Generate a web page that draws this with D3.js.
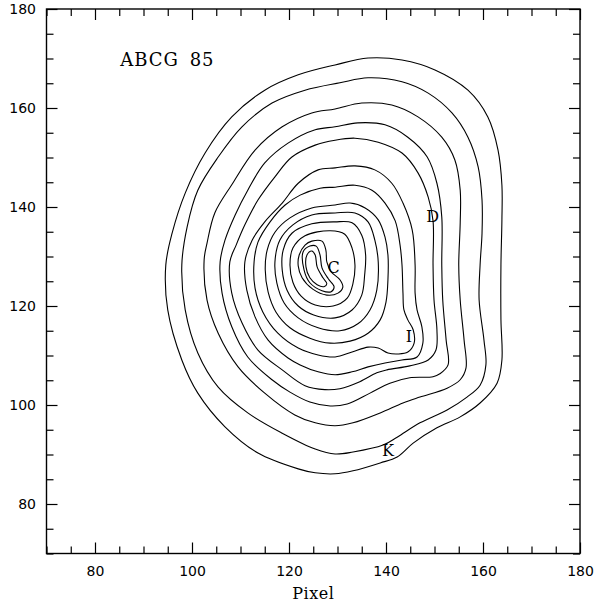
<!DOCTYPE html>
<html>
<head>
<meta charset="utf-8">
<script src="https://cdn.jsdelivr.net/npm/d3@7"></script>
<style>
  html, body { margin: 0; padding: 0; background: #fff; }
  svg { display: block; }
  .tick text { font-family: "DejaVu Sans", sans-serif; font-size: 14px; fill: #000; }
  .lbl { font-family: "DejaVu Serif", serif; fill: #000; }
</style>
</head>
<body>
<svg id="chart"></svg>
<script>
// isophote contours, outer (1) to inner (14), in pixel units of the image
const contour1 = [[129.5,168.7],[136.3,170.1],[143.3,169.7],[150.1,167.7],[156.9,163.6],[161.0,158.2],[163.1,151.5],[163.9,144.4],[163.9,137.4],[163.7,128.3],[163.7,117.2],[163.9,109.1],[162.9,104.4],[159.4,100.4],[155.3,97.6],[150.5,95.4],[145.6,92.3],[142.3,89.5],[138.8,88.3],[133.2,86.7],[129.5,86.1],[125.4,86.3],[121.9,87.1],[113.6,90.3],[106.8,95.6],[101.2,102.4],[97.9,109.1],[95.0,119.2],[94.6,128.3],[95.9,134.7],[98.6,142.8],[102.7,150.9],[108.2,158.2],[115.0,163.6],[121.9,166.7]];
const contour2 = [[130.5,165.1],[136.3,166.1],[143.3,165.3],[148.7,163.0],[153.6,159.0],[156.9,154.1],[159.0,148.1],[159.8,141.4],[159.8,134.7],[159.4,128.3],[159.2,121.2],[160.2,113.1],[160.6,108.1],[159.4,104.0],[156.7,101.6],[152.6,99.0],[147.0,96.4],[142.3,93.5],[139.4,91.9],[133.2,90.5],[129.5,90.1],[125.4,91.1],[118.6,94.3],[111.5,98.4],[105.4,103.6],[101.2,110.5],[98.6,119.2],[97.9,128.3],[99.0,136.0],[101.2,143.4],[105.4,150.1],[110.3,156.2],[116.5,161.0],[123.3,163.6]];
const contour3 = [[129.5,159.8],[135.0,161.0],[141.2,160.6],[146.6,158.2],[151.5,154.1],[154.2,149.5],[155.3,143.4],[155.3,136.8],[155.0,128.3],[155.3,121.2],[156.1,113.1],[156.5,107.5],[155.3,105.1],[152.6,103.4],[147.0,101.6],[143.5,100.4],[138.8,98.4],[133.2,96.4],[129.5,95.8],[125.4,96.4],[121.2,98.0],[115.0,102.4],[109.5,107.7],[105.4,114.5],[103.1,121.2],[102.5,129.3],[103.1,132.7],[104.7,138.8],[108.2,144.5],[113.0,151.5],[118.6,156.2],[124.7,159.0]];
const contour4 = [[129.5,156.2],[134.2,157.0],[139.8,156.6],[144.5,154.1],[148.5,150.1],[150.5,144.8],[151.5,138.0],[151.5,128.3],[151.7,121.2],[152.4,113.1],[152.8,108.1],[151.1,106.3],[149.7,105.7],[144.9,105.5],[140.8,104.4],[136.7,102.4],[132.0,100.2],[128.5,99.8],[124.3,100.6],[120.2,102.6],[116.5,105.1],[111.5,109.7],[108.2,115.8],[106.2,122.6],[105.8,128.9],[106.8,133.3],[108.9,138.4],[111.5,143.4],[115.0,148.9],[119.8,152.9],[125.4,155.6]];
const contour5 = [[129.5,153.5],[133.6,153.9],[138.4,153.1],[143.3,150.9],[146.6,146.9],[148.7,142.0],[149.7,137.2],[149.7,128.3],[149.9,121.2],[150.5,115.2],[150.3,111.1],[148.7,109.1],[144.9,107.9],[140.2,107.1],[138.1,106.5],[134.6,104.7],[130.5,103.3],[127.4,103.1],[123.3,103.9],[118.6,107.1],[113.6,111.1],[110.3,116.6],[108.2,122.6],[107.8,128.9],[109.1,132.3],[110.9,136.4],[113.6,141.4],[117.1,146.1],[120.6,150.1],[125.4,152.5]];
const contour6 = [[129.5,147.9],[133.6,148.3],[137.7,147.5],[141.2,144.8],[143.5,140.8],[145.4,135.4],[146.0,128.3],[146.0,122.6],[146.4,119.2],[147.4,115.8],[147.6,112.5],[146.4,109.7],[143.3,109.1],[139.8,108.5],[136.3,107.7],[133.0,106.7],[129.5,106.1],[126.0,106.7],[122.3,108.1],[119.8,109.5],[115.7,113.1],[113.0,117.8],[111.3,123.2],[110.9,128.9],[112.4,133.3],[115.0,137.0],[118.6,140.8],[121.9,144.8],[126.0,147.5]];
const contour7 = [[129.5,144.0],[133.6,144.4],[137.1,143.4],[139.8,140.8],[141.9,137.2],[142.9,132.3],[143.3,128.3],[143.5,122.6],[143.7,119.2],[144.5,117.2],[145.6,115.2],[145.8,112.5],[144.5,110.7],[142.5,110.3],[140.4,110.5],[138.4,111.5],[136.3,111.7],[133.0,110.7],[129.5,109.7],[126.0,110.1],[121.9,111.5],[117.7,114.5],[114.6,118.8],[113.0,123.6],[112.8,128.9],[113.6,132.9],[116.1,137.0],[119.2,140.4],[122.3,142.4],[126.4,143.8]];
const contour8 = [[129.5,140.4],[132.6,140.8],[135.7,139.8],[138.4,137.4],[139.8,133.9],[140.4,130.3],[140.4,125.3],[140.0,120.8],[138.8,117.2],[136.3,114.5],[132.6,112.9],[128.5,112.5],[124.3,113.5],[120.2,115.6],[117.3,118.8],[115.7,122.8],[115.1,127.3],[115.5,131.3],[117.1,134.9],[120.2,137.8],[124.7,139.8]];
const contour9 = [[129.5,138.8],[133.6,138.8],[136.3,137.0],[137.7,133.3],[138.4,128.9],[138.1,123.2],[136.7,119.2],[134.2,116.4],[130.5,115.0],[126.0,115.6],[121.9,117.6],[119.0,120.6],[117.5,124.6],[117.1,128.9],[118.1,133.3],[120.8,136.4],[124.7,138.4]];
const contour10 = [[129.5,137.0],[133.0,136.8],[135.0,134.3],[135.8,130.3],[135.6,126.3],[135.0,122.2],[133.0,119.2],[129.5,117.6],[125.1,118.2],[121.9,120.0],[119.6,123.2],[118.6,127.3],[118.8,131.3],[120.6,134.7],[124.7,136.6]];
const contour11 = [[128.5,135.2],[131.5,134.5],[133.0,131.7],[133.6,128.3],[133.2,124.6],[132.0,121.6],[129.1,120.0],[125.4,120.2],[122.5,122.0],[120.8,124.8],[120.2,128.3],[120.8,131.7],[123.3,134.2]];
const contour12 = [[122.1,130.3],[123.3,132.3],[124.7,133.1],[126.8,133.1],[127.6,131.3],[127.8,128.9],[128.7,126.9],[130.5,125.3],[131.1,123.8],[130.1,122.6],[127.8,122.2],[124.9,123.4],[122.7,125.7],[121.9,128.1]];
const contour13 = [[122.9,130.9],[124.3,132.1],[125.6,132.1],[126.4,130.3],[126.8,127.7],[128.1,125.5],[129.3,123.9],[128.7,122.9],[126.8,123.1],[124.3,124.7],[123.1,127.3]];
const contour14 = [[123.7,130.3],[124.7,131.1],[125.4,130.3],[125.8,127.9],[127.0,125.7],[127.8,124.5],[127.2,123.9],[125.8,124.3],[124.3,125.7],[123.5,127.9]];

const contours = [contour1, contour2, contour3, contour4, contour5, contour6, contour7,
                  contour8, contour9, contour10, contour11, contour12, contour13, contour14];

// labels: [text, x, y]
const labels = [
  ['C', 129.2, 127.8],
  ['D', 149.6, 138.0],
  ['I', 144.7, 113.9],
  ['K', 140.4, 90.8]
];
const title = ['ABCG 85', 85.2, 168.4];

const majorTicks = [80, 100, 120, 140, 160, 180];
const minorTicks = d3.range(70, 181, 5).filter(v => !majorTicks.includes(v));
const xLabel = 'Pixel';

const width = 597, height = 604;
const svg = d3.select('#chart').attr('width', width).attr('height', height);

const x = d3.scaleLinear().domain([70, 180]).range([46.5, 580]);
const y = d3.scaleLinear().domain([70, 180]).range([553.5, 9]);

const MAJ = 11, MIN = 7;

function axes(gen, tr, vals, size, fmt) {
  const g = svg.append('g').attr('transform', tr)
    .call(gen.tickValues(vals).tickSize(-size).tickPadding(fmt ? 12.5 : 0).tickFormat(fmt ? d3.format('d') : ''));
  g.select('.domain').remove();
  g.selectAll('line').attr('stroke', '#000').attr('stroke-width', 1.2);
  return g;
}

// bottom
axes(d3.axisBottom(x), `translate(0,${y(70)})`, majorTicks, MAJ, true);
axes(d3.axisBottom(x), `translate(0,${y(70)})`, minorTicks, MIN, false);
// top
axes(d3.axisTop(x), `translate(0,${y(180)})`, majorTicks, MAJ, false);
axes(d3.axisTop(x), `translate(0,${y(180)})`, minorTicks, MIN, false);
// left
const yl = axes(d3.axisLeft(y), `translate(${x(70)},0)`, majorTicks, MAJ, true);
yl.selectAll('text').attr('x', -10.5);
axes(d3.axisLeft(y), `translate(${x(70)},0)`, minorTicks, MIN, false);
// right
axes(d3.axisRight(y), `translate(${x(180)},0)`, majorTicks, MAJ, false);
axes(d3.axisRight(y), `translate(${x(180)},0)`, minorTicks, MIN, false);

svg.append('rect')
  .attr('x', x(70)).attr('y', y(180))
  .attr('width', x(180) - x(70)).attr('height', y(70) - y(180))
  .attr('fill', 'none').attr('stroke', '#000').attr('stroke-width', 1.4);

const line = d3.line()
  .x(d => x(d[0]))
  .y(d => y(d[1]))
  .curve(d3.curveCatmullRomClosed.alpha(0.5));

svg.append('g')
  .selectAll('path')
  .data(contours)
  .join('path')
    .attr('d', line)
    .attr('fill', 'none')
    .attr('stroke', '#000')
    .attr('stroke-width', 1.1);

svg.append('g')
  .selectAll('text')
  .data(labels)
  .join('text')
    .attr('class', 'lbl')
    .attr('x', d => x(d[1]))
    .attr('y', d => y(d[2]))
    .attr('text-anchor', 'middle')
    .attr('dominant-baseline', 'central')
    .style('font-size', '16px')
    .text(d => d[0]);

svg.append('text')
  .attr('class', 'lbl')
  .attr('x', x(title[1]))
  .attr('y', y(title[2]))
  .style('font-size', '18px')
  .style('letter-spacing', '1px')
  .style('word-spacing', '4px')
  .text(title[0]);

svg.append('text')
  .attr('class', 'lbl')
  .attr('x', (x(70) + x(180)) / 2)
  .attr('y', 599)
  .attr('text-anchor', 'middle')
  .style('font-size', '16px')
  .style('letter-spacing', '0.5px')
  .text(xLabel);
</script>
</body>
</html>
